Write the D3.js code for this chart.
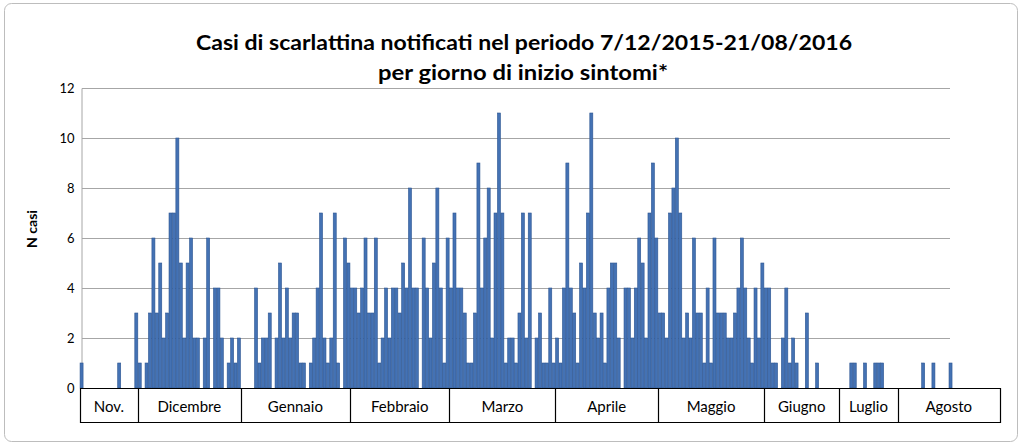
<!DOCTYPE html>
<html>
<head>
<meta charset="utf-8">
<script src="https://cdn.jsdelivr.net/npm/d3@7"></script>
<style>
  html,body{margin:0;padding:0;background:#fff;}
  svg{display:block;}
  text{font-family:Lato, "Open Sans", sans-serif;}
</style>
</head>
<body>
<svg id="chart" width="1024" height="447"></svg>
<script>
// ---- DATA ----
const titleLines = ["Casi di scarlattina notificati nel periodo 7/12/2015-21/08/2016", "per giorno di inizio sintomi*"];
const yTitle = "N casi";
const yTicks = [0, 2, 4, 6, 8, 10, 12];
const months = ["Nov.", "Dicembre", "Gennaio", "Febbraio", "Marzo", "Aprile", "Maggio", "Giugno", "Luglio", "Agosto"];
const casesNov = [1,0,0,0,0,0,0,0,0,0,0,1,0,0,0,0,3];
const casesDic = [1,0,1,3,6,3,5,2,3,7,7,10,5,2,5,6,2,2,0,2,6,0,4,4,2,0,1,2,1,2];
const casesGen = [0,0,0,0,4,1,2,2,3,0,2,5,2,4,2,3,3,1,1,0,1,2,4,7,2,1,2,7,1,0,6,5];
const casesFeb = [4,4,3,4,6,3,3,6,1,2,4,2,4,4,3,5,4,8,4,4,0,6,4,2,5,8,4,1,6];
const casesMar = [4,7,4,4,3,1,1,3,9,4,6,8,2,7,11,7,1,2,2,1,3,7,2,7,0,2,3,1,1,4,1];
const casesApr = [2,1,4,9,4,3,1,5,4,7,11,3,2,3,1,4,5,5,2,0,4,4,2,4,6,5,2,7,9,6];
const casesMag = [3,3,2,7,8,10,7,2,3,2,6,3,3,1,4,1,6,3,3,3,2,2,3,4,6,4,2,1,4,2,5];
const casesGiu = [4,4,1,1,0,2,4,1,2,1,0,0,3,0,0,1,0,0,0,0,0,0];
const casesLug = [0,0,0,1,1,0,0,1,0,0,1,1,1,0,0,0,0];
const casesAgo = [0,0,0,0,0,0,0,1,0,0,1,0,0,0,0,1,0,0,0,0,0,0,0,0,0,0,0,0,0,0];

const monthSeries = [casesNov, casesDic, casesGen, casesFeb, casesMar, casesApr, casesMag, casesGiu, casesLug, casesAgo];

// build flat table
const table = [];
const groups = [];
monthSeries.forEach((arr, m) => {
  const start = table.length;
  arr.forEach((v) => table.push({ i: table.length, month: m, value: v }));
  groups.push({ name: months[m], start: start, end: table.length - 1 });
});

// ---- LAYOUT ----
const svg = d3.select("#chart");
const axisLeftX = 80, axisRightX = 1000, gridRight = 950;
const yTop = 88, yBottom = 388, boxBottom = 422;

const x = d3.scaleBand().domain(table.map(d => d.i)).range([axisLeftX, axisRightX]).paddingInner(0.12).paddingOuter(0.02);
const y = d3.scaleLinear().domain([0, 12]).range([yBottom, yTop]);

// outer frame
svg.append("rect").attr("x", 4.5).attr("y", 3.5).attr("width", 1013).attr("height", 438)
  .attr("rx", 7).attr("fill", "#fff").attr("stroke", "#bdbdbd").attr("stroke-width", 1);

// title
svg.append("text").attr("x", 524).attr("y", 50).attr("text-anchor", "middle")
  .attr("font-size", 20).attr("font-weight", "bold").attr("fill", "#000")
  .attr("textLength", 656).attr("lengthAdjust", "spacingAndGlyphs")
  .text(titleLines[0]);
svg.append("text").attr("x", 523).attr("y", 80).attr("text-anchor", "middle")
  .attr("font-size", 20).attr("font-weight", "bold").attr("fill", "#000")
  .attr("textLength", 290).attr("lengthAdjust", "spacingAndGlyphs")
  .text(titleLines[1]);

// gridlines
svg.append("g").selectAll("line").data(yTicks.filter(t => t > 0)).join("line")
  .attr("x1", axisLeftX + 2).attr("x2", gridRight)
  .attr("y1", d => Math.round(y(d)) + 0.5).attr("y2", d => Math.round(y(d)) + 0.5)
  .attr("stroke", "#a6a6a6").attr("stroke-width", 1);

// y axis
const yAxis = d3.axisLeft(y).tickValues(yTicks).tickSize(0).tickPadding(7);
const gy = svg.append("g").attr("transform", `translate(${axisLeftX + 1.5},0)`).call(yAxis);
gy.select(".domain").attr("stroke", "#a6a6a6");
gy.selectAll("text").attr("font-size", 13).attr("fill", "#000")
  .style("font-family", "Lato, 'Open Sans', sans-serif");

// y title
svg.append("text").attr("transform", "translate(37,229) rotate(-90)")
  .attr("text-anchor", "middle").attr("font-size", 14).attr("font-weight", "bold").text(yTitle);

// bars
svg.append("g").selectAll("rect").data(table.filter(d => d.value > 0)).join("rect")
  .attr("x", d => x(d.i)).attr("width", x.bandwidth())
  .attr("y", d => y(d.value)).attr("height", d => y(0) - y(d.value))
  .attr("fill", "#4472b4").attr("stroke", "#2c5591").attr("stroke-width", 0.6);

// category axis box
const ax = svg.append("g");
ax.append("line").attr("x1", axisLeftX).attr("x2", axisRightX).attr("y1", yBottom + 0.5).attr("y2", yBottom + 0.5)
  .attr("stroke", "#000").attr("stroke-width", 1.2);
ax.append("line").attr("x1", axisLeftX).attr("x2", axisRightX).attr("y1", boxBottom + 0.5).attr("y2", boxBottom + 0.5)
  .attr("stroke", "#000").attr("stroke-width", 1.2);
const step = x.step();
const boundaries = [x(0) - x.paddingOuter() * step].concat(groups.map(g => x(g.end) + x.bandwidth() + (step - x.bandwidth()) / 2));
boundaries[boundaries.length - 1] = axisRightX;
ax.selectAll("line.div").data(boundaries).join("line").attr("class", "div")
  .attr("x1", d => Math.round(d) + 0.5).attr("x2", d => Math.round(d) + 0.5)
  .attr("y1", yBottom).attr("y2", boxBottom + 1)
  .attr("stroke", "#000").attr("stroke-width", 1.2);
ax.selectAll("text").data(groups).join("text")
  .attr("x", (g, k) => (boundaries[k] + boundaries[k + 1]) / 2)
  .attr("y", 412).attr("text-anchor", "middle").attr("font-size", 15).attr("fill", "#000")
  .text(g => g.name);
</script>
</body>
</html>
